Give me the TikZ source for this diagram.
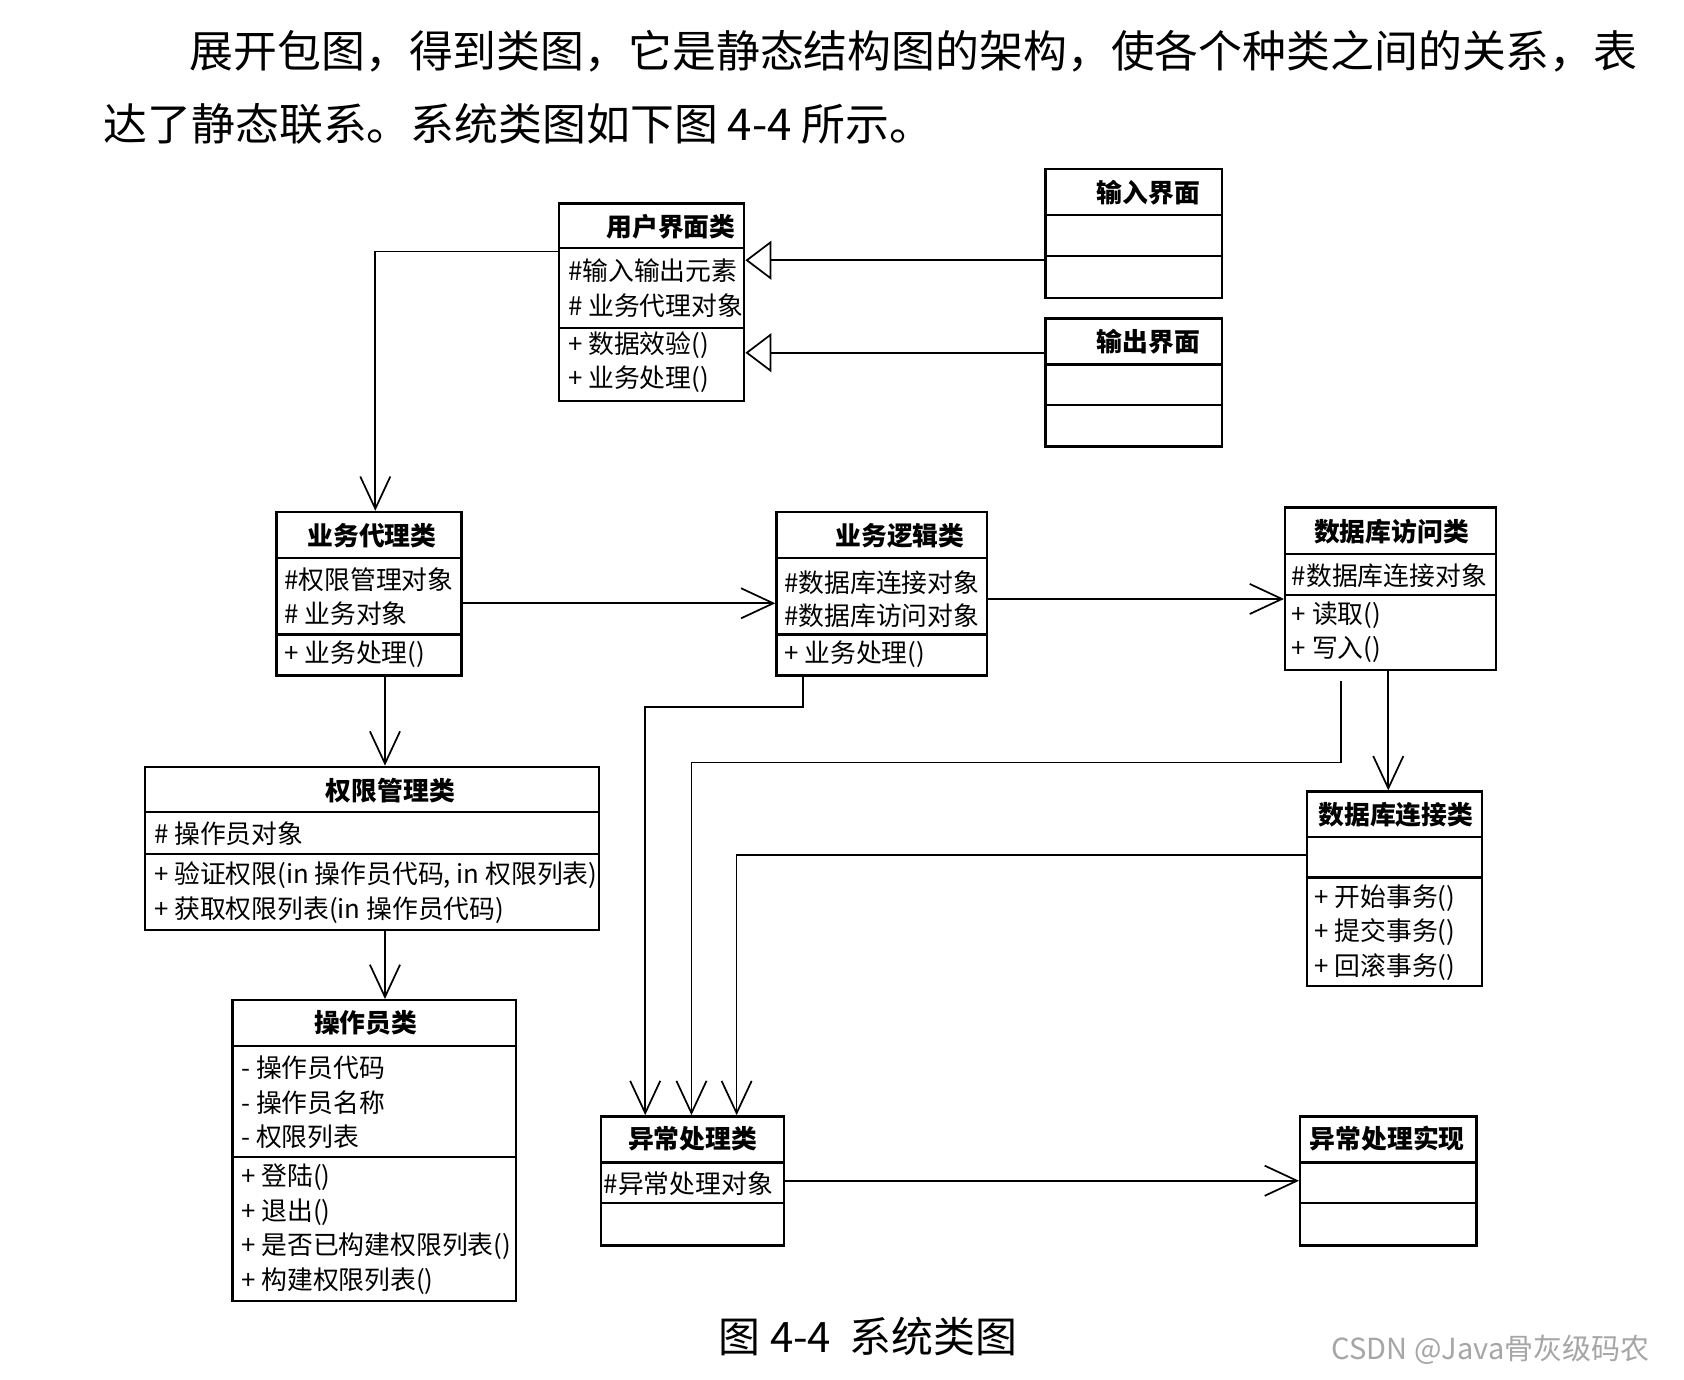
\documentclass[tikz,border=0pt]{standalone}
\usepackage{fontspec}
\setmainfont{Noto Sans CJK SC}
\usetikzlibrary{arrows.meta}
\tikzset{
  cls/.style={draw, line width=1.1pt, inner sep=0pt, anchor=north west},
  sepline/.style={line width=1pt},
  attr/.style={anchor=west, inner sep=0pt, font=\fontsize{12pt}{14pt}\selectfont},
  ttl/.style={inner sep=0pt, font=\fontsize{12pt}{14pt}\selectfont\bfseries},
  conn/.style={line width=0.8pt},
  dep/.style={conn, -{Straight Barb[length=15pt,width=14pt]}},
  gen/.style={conn, -{Triangle[open, length=12pt, width=18pt, fill=white]}},
  body/.style={anchor=west, inner sep=0pt, font=\fontsize{20.4pt}{24pt}\selectfont},
}
\begin{document}
\begin{tikzpicture}[x=0.5pt,y=-0.5pt]
\useasboundingbox[fill=white] (2,2) rectangle (1568,1285);

% paragraph text
\node[body] (p1) at (178,50) {展开包图，得到类图，它是静态结构图的架构，使各个种类之间的关系，表};
\node[body] (p2) at (98,117) {达了静态联系。系统类图如下图 4-4 所示。};

% ---------- 用户界面类
\node[cls, minimum width=86pt, minimum height=92pt] (ui) at (521,190) {};
\draw[sepline] (ui.west |- 0,233) -- (ui.east |- 0,233);
\draw[sepline] (ui.west |- 0,307) -- (ui.east |- 0,307);
\node[ttl] (uit) at (626,213) {用户界面类};
\node[attr] (ua1) at (530,254) {\#输入输出元素};
\node[attr] (ua2) at (530,286) {\# 业务代理对象};
\node[attr] (um1) at (530,323) {+ 数据效验()};
\node[attr] (um2) at (530,355) {+ 业务处理()};

% ---------- 输入界面
\node[cls, minimum width=82pt, minimum height=60pt] (inp) at (973,158) {};
\draw[sepline] (inp.west |- 0,202) -- (inp.east |- 0,202);
\draw[sepline] (inp.west |- 0,240) -- (inp.east |- 0,240);
\node[ttl] (inpt) at (1070,181) {输入界面};

% ---------- 输出界面
\node[cls, minimum width=82pt, minimum height=59.5pt] (outp) at (973,297) {};
\draw[sepline] (outp.west |- 0,341) -- (outp.east |- 0,341);
\draw[sepline] (outp.west |- 0,379) -- (outp.east |- 0,379);
\node[ttl] (outpt) at (1070,320) {输出界面};

% ---------- 业务代理类
\node[cls, minimum width=86pt, minimum height=76pt] (agent) at (258,477) {};
\draw[sepline] (agent.west |- 0,521) -- (agent.east |- 0,521);
\draw[sepline] (agent.west |- 0,592) -- (agent.east |- 0,592);
\node[ttl] (agentt) at (348,500) {业务代理类};
\node[attr] (ga1) at (266,541) {\#权限管理对象};
\node[attr] (ga2) at (266,573) {\# 业务对象};
\node[attr] (gm1) at (266,610) {+ 业务处理()};

% ---------- 业务逻辑类
\node[cls, minimum width=98pt, minimum height=76pt] (logic) at (723,477) {};
\draw[sepline] (logic.west |- 0,521) -- (logic.east |- 0,521);
\draw[sepline] (logic.west |- 0,592) -- (logic.east |- 0,592);
\node[ttl] (logict) at (839,500) {业务逻辑类};
\node[attr] (la1) at (731,544) {\#数据库连接对象};
\node[attr] (la2) at (731,575) {\#数据库访问对象};
\node[attr] (lm1) at (731,610) {+ 业务处理()};

% ---------- 数据库访问类
\node[cls, minimum width=98pt, minimum height=75.5pt] (dba) at (1196,473) {};
\draw[sepline] (dba.west |- 0,517) -- (dba.east |- 0,517);
\draw[sepline] (dba.west |- 0,555) -- (dba.east |- 0,555);
\node[ttl] (dbat) at (1296,496) {数据库访问类};
\node[attr] (da1) at (1203,537) {\#数据库连接对象};
\node[attr] (dm1) at (1203,574) {+ 读取()};
\node[attr] (dm2) at (1203,606) {+ 写入()};

% ---------- 数据库连接类
\node[cls, minimum width=81.5pt, minimum height=90.5pt] (dbc) at (1216,737) {};
\draw[sepline] (dbc.west |- 0,780) -- (dbc.east |- 0,780);
\draw[sepline] (dbc.west |- 0,818) -- (dbc.east |- 0,818);
\node[ttl] (dbct) at (1300,760) {数据库连接类};
\node[attr] (cm1) at (1224,837) {+ 开始事务()};
\node[attr] (cm2) at (1224,869) {+ 提交事务()};
\node[attr] (cm3) at (1224,901) {+ 回滚事务()};

% ---------- 权限管理类
\node[cls, minimum width=211pt, minimum height=76pt] (perm) at (136,714) {};
\draw[sepline] (perm.west |- 0,757) -- (perm.east |- 0,757);
\draw[sepline] (perm.west |- 0,796) -- (perm.east |- 0,796);
\node[ttl] (permt) at (365,737) {权限管理类};
\node[attr] (pa1) at (145,777) {\# 操作员对象};
\node[attr] (pm1) at (145,816) {+ 验证权限(in 操作员代码, in 权限列表)};
\node[attr] (pm2) at (145,848) {+ 获取权限列表(in 操作员代码)};

% ---------- 操作员类
\node[cls, minimum width=132pt, minimum height=140pt] (oper) at (217,931) {};
\draw[sepline] (oper.west |- 0,975) -- (oper.east |- 0,975);
\draw[sepline] (oper.west |- 0,1078) -- (oper.east |- 0,1078);
\node[ttl] (opert) at (342,953) {操作员类};
\node[attr] (oa1) at (226,995) {- 操作员代码};
\node[attr] (oa2) at (226,1027) {- 操作员名称};
\node[attr] (oa3) at (226,1059) {- 权限列表};
\node[attr] (om1) at (226,1097) {+ 登陆()};
\node[attr] (om2) at (226,1129) {+ 退出()};
\node[attr] (om3) at (226,1161) {+ 是否已构建权限列表()};
\node[attr] (om4) at (226,1193) {+ 构建权限列表()};

% ---------- 异常处理类
\node[cls, minimum width=85pt, minimum height=60pt] (exc) at (560,1039) {};
\draw[sepline] (exc.west |- 0,1083) -- (exc.east |- 0,1083);
\draw[sepline] (exc.west |- 0,1121) -- (exc.east |- 0,1121);
\node[ttl] (exct) at (646,1061) {异常处理类};
\node[attr] (ea1) at (563,1103) {\#异常处理对象};

% ---------- 异常处理实现
\node[cls, minimum width=82pt, minimum height=60pt] (impl) at (1210,1039) {};
\draw[sepline] (impl.west |- 0,1083) -- (impl.east |- 0,1083);
\draw[sepline] (impl.west |- 0,1121) -- (impl.east |- 0,1121);
\node[ttl] (implt) at (1292,1061) {异常处理实现};

% ---------- connectors
\draw[dep] (ui.west |- 0,236) -| (agent.north -| 351,0);
\draw[gen] (inp.west |- 0,244) -- (ui.east |- 0,244);
\draw[gen] (outp.west |- 0,330) -- (ui.east |- 0,330);
\draw[dep] (agent.east |- 0,563) -- (logic.west |- 0,563);
\draw[dep] (logic.east |- 0,559) -- (dba.west |- 0,559);
\draw[dep] (dba.south -| 1293,0) -- (dbc.north -| 1293,0);
\draw[dep] (agent.south -| 360,0) -- (perm.north -| 360,0);
\draw[dep] (perm.south -| 360,0) -- (oper.north -| 360,0);
\draw[dep] (logic.south -| 749,0) -- ++(0,28) -| (exc.north -| 602,0);
\path (dba.south -| 1249,0) ++(0,9) coordinate (g1);
\draw[dep] (g1) -- (g1 |- 0,711) -| (exc.north -| 645,0);
\draw[dep] (dbc.west |- 0,797) -| (exc.north -| 687,0);
\draw[dep] (exc.east |- 0,1100) -- (impl.west |- 0,1100);

% caption
\node[anchor=west, inner sep=0pt, font=\fontsize{19.5pt}{23pt}\selectfont] (cap) at (670,1245) {图 4-4\ \ 系统类图};
% watermark
\node[anchor=west, inner sep=0pt, text=black!35, font=\fontsize{13.5pt}{16pt}\selectfont] (wm) at (1240,1257) {CSDN @Java骨灰级码农};
\end{tikzpicture}
\end{document}
